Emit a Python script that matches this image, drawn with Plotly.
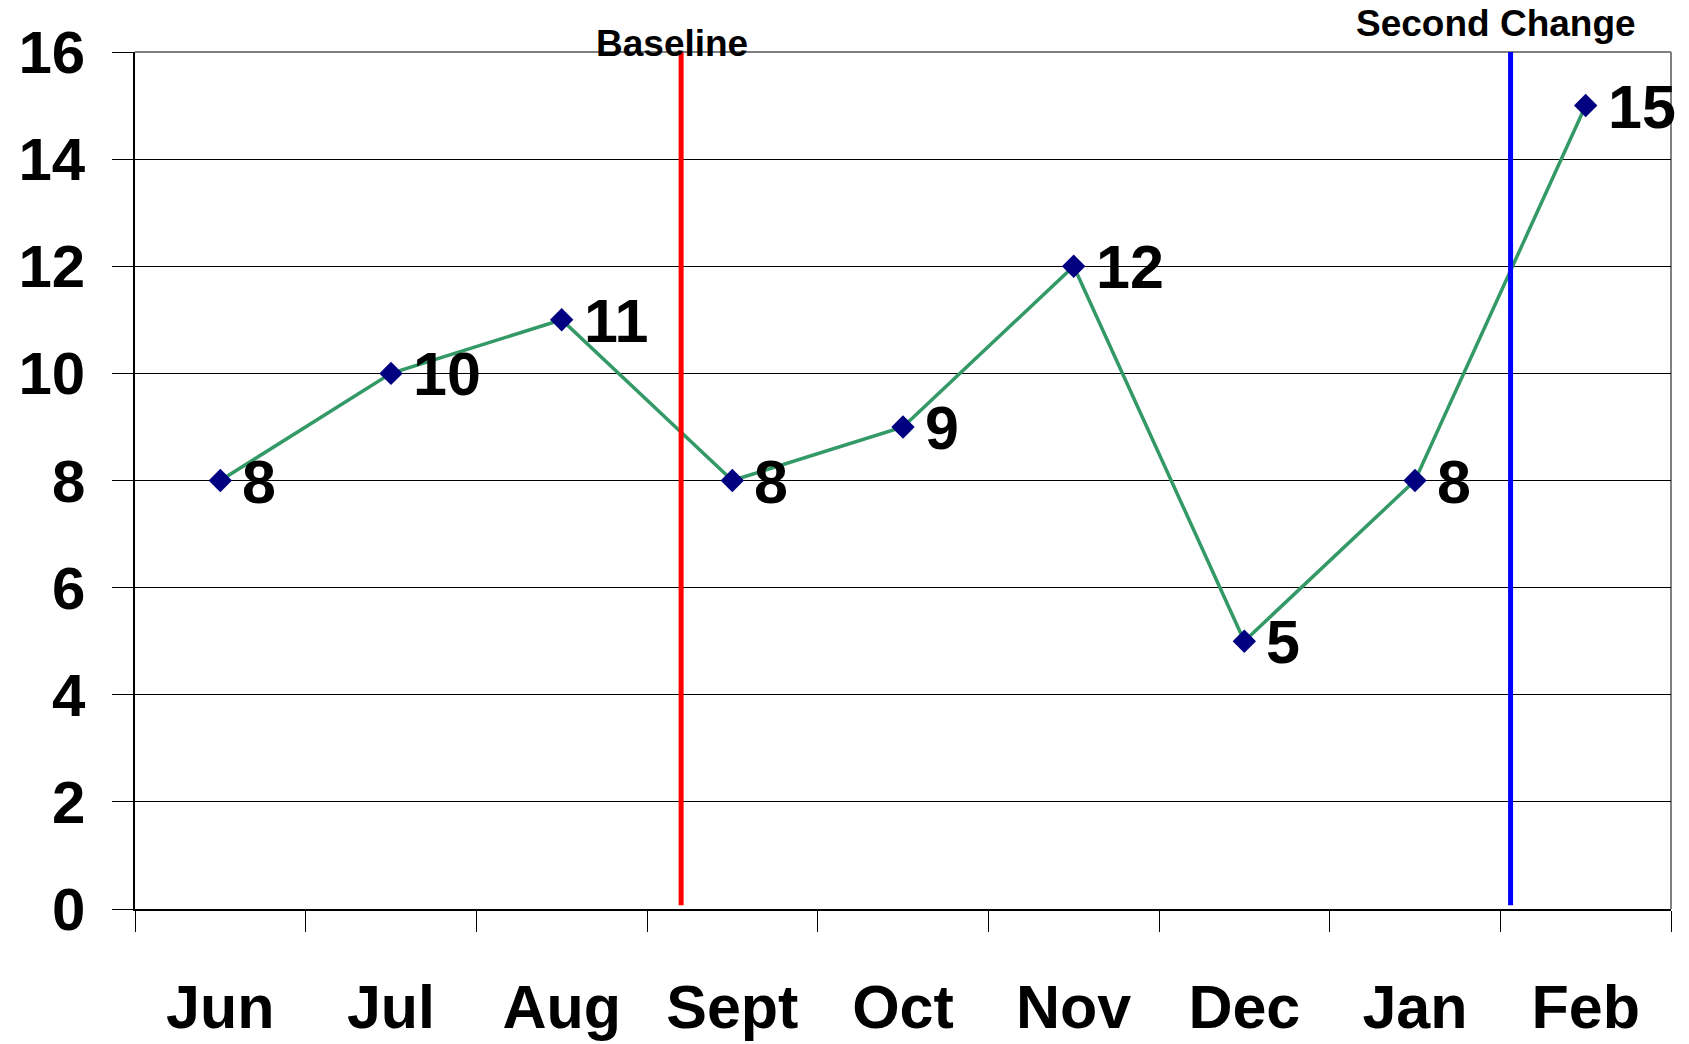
import plotly.graph_objects as go

months = ["Jun", "Jul", "Aug", "Sept", "Oct", "Nov", "Dec", "Jan", "Feb"]
values = [8, 10, 11, 8, 9, 12, 5, 8, 15]
y_ticks = [0, 2, 4, 6, 8, 10, 12, 14, 16]
phase_names = ["Baseline", "Second Change"]
phase_positions = [2.70, 7.56]   # category-index positions of the phase lines
phase_colors = ["#FF0000", "#0000FF"]

FONT = "Liberation Sans, Arial, sans-serif"

fig = go.Figure()
fig.add_trace(go.Scatter(
    x=months, y=values,
    mode="lines+markers",
    line=dict(color="#339966", width=3.5),
    marker=dict(symbol="diamond", size=18, color="#000080"),
    cliponaxis=False,
    showlegend=False,
))

for m, v in zip(months, values):
    fig.add_annotation(x=m, y=v, xref="x", yref="y", text=str(v), showarrow=False,
                       xanchor="left", yanchor="middle", xshift=20, yshift=-1,
                       font=dict(family=FONT, size=61, color="black", weight="bold"))

for name, pos, col, ylab, xs in zip(phase_names, phase_positions, phase_colors, [1.010, 1.033], [-9, -15]):
    fig.add_shape(type="line", xref="x", yref="y", x0=pos, x1=pos, y0=0.07, y1=16,
                  line=dict(color=col, width=5), layer="above")
    fig.add_annotation(x=pos, y=ylab, xref="x", yref="paper", text=name, showarrow=False,
                       xanchor="center", yanchor="middle", xshift=xs,
                       font=dict(family=FONT, size=37, color="black", weight="bold"))

# plot border top/right (grey)
fig.add_shape(type="line", xref="paper", yref="paper", x0=0, x1=1, y0=1, y1=1,
              line=dict(color="#808080", width=2), layer="below")
fig.add_shape(type="line", xref="paper", yref="paper", x0=1, x1=1, y0=0, y1=1,
              line=dict(color="#808080", width=2), layer="below")

fig.update_layout(
    width=1689, height=1044,
    margin=dict(l=135, r=18, t=52, b=135, autoexpand=False),
    paper_bgcolor="white", plot_bgcolor="white",
    font=dict(family=FONT, color="black"),
)
fig.update_xaxes(
    type="category", categoryorder="array", categoryarray=months,
    range=[-0.5, len(months) - 0.5], automargin=False,
    showgrid=False, zeroline=False,
    showline=True, linecolor="black", linewidth=2,
    ticks="outside", tickson="boundaries", ticklen=21, tickcolor="black", tickwidth=1,
    tickfont=dict(family=FONT, size=61, color="black", weight="bold"),
    ticklabelstandoff=44,
)
fig.update_yaxes(
    range=[0, 16], tickmode="array", tickvals=y_ticks, automargin=False,
    showgrid=True, gridcolor="black", gridwidth=1,
    zeroline=False,
    showline=True, linecolor="black", linewidth=1.5,
    ticks="outside", ticklen=21, tickcolor="black", tickwidth=1,
    tickfont=dict(family=FONT, size=60, color="black", weight="bold"),
    ticklabelstandoff=15,
)

fig.write_html("out.html")
